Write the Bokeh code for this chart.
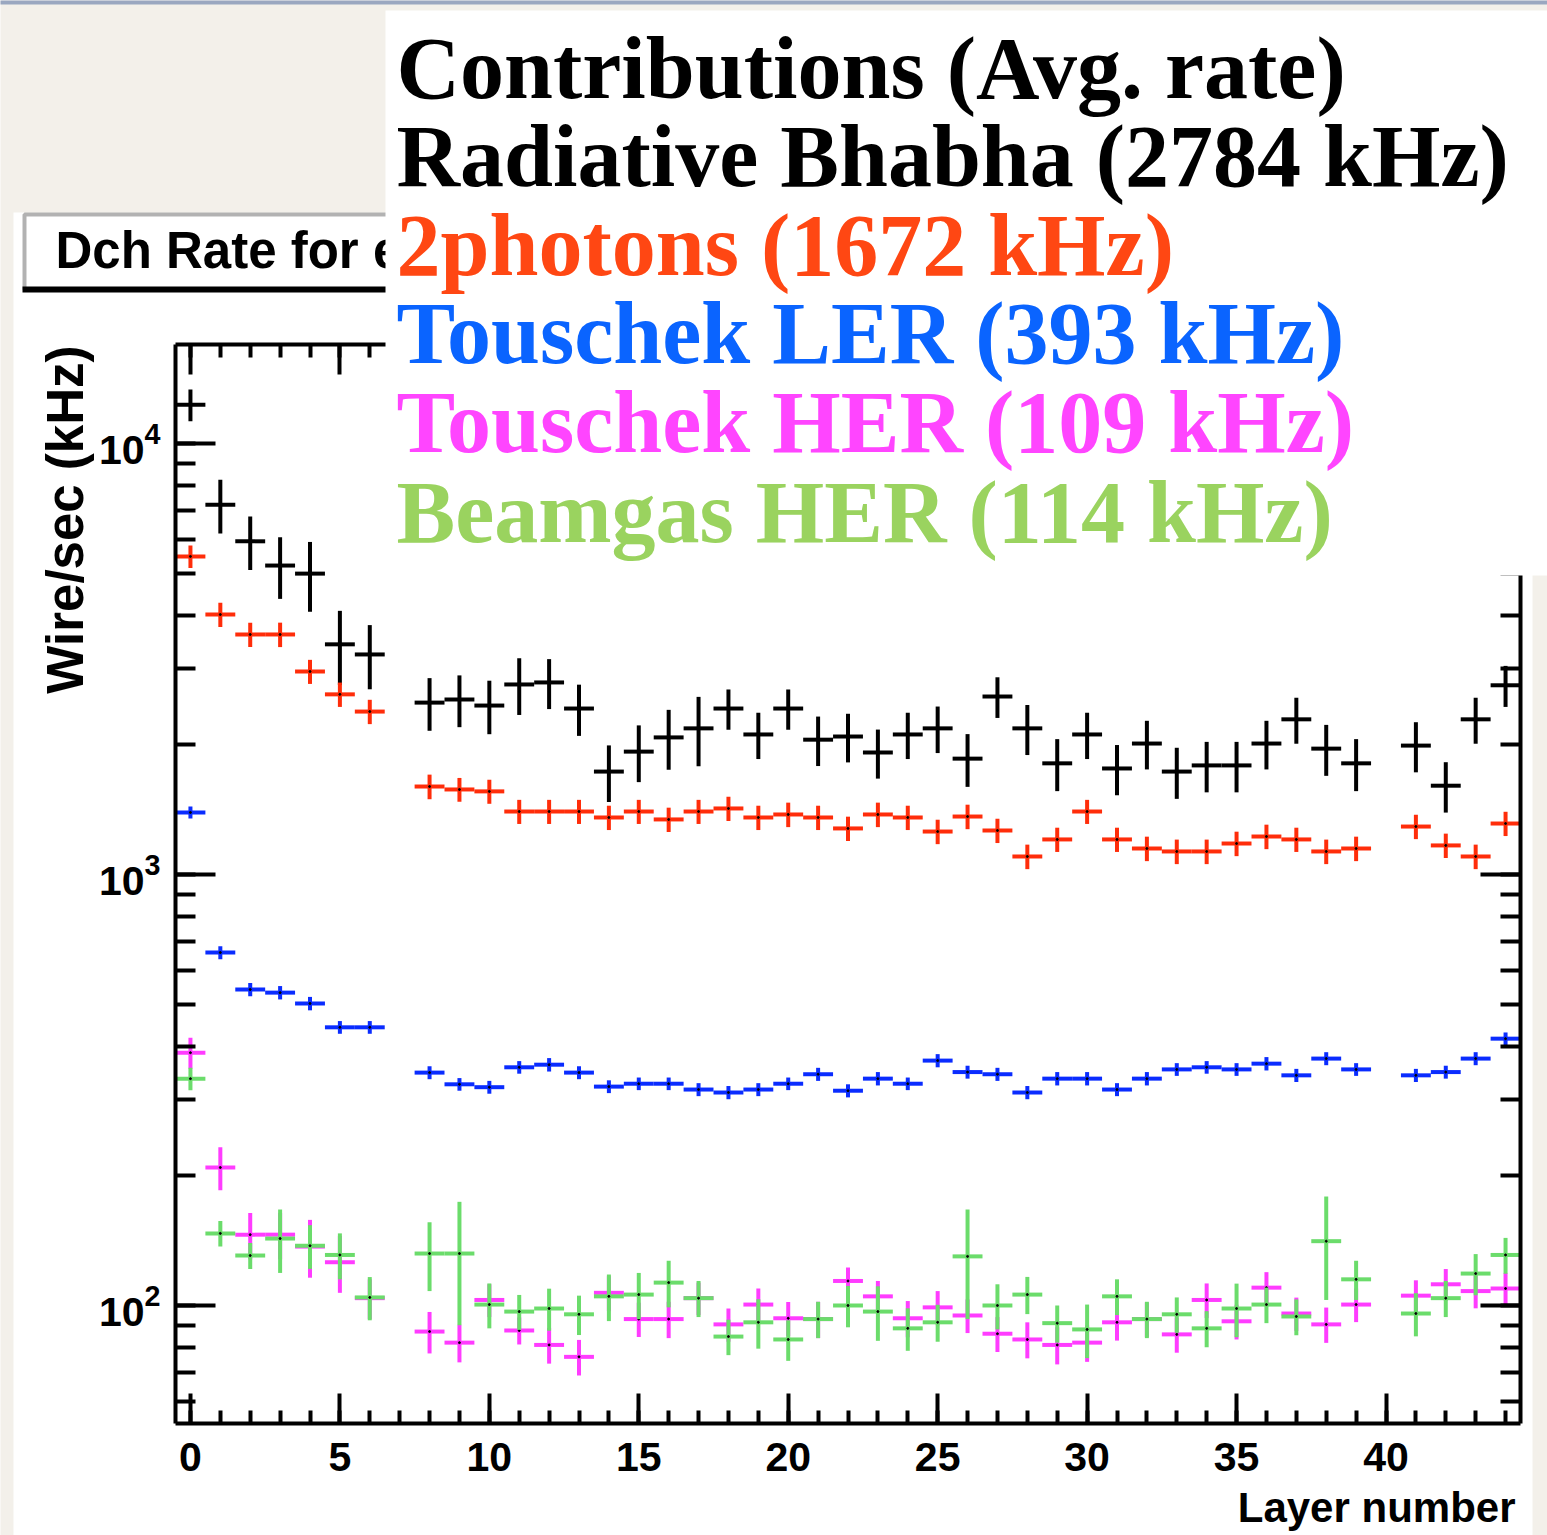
import math
from bokeh.plotting import figure
from bokeh.models import (ColumnDataSource, Range1d, LogAxis, LinearAxis,
                          SingleIntervalTicker, LogTicker, BoxAnnotation, Label,
                          CustomLabelingPolicy)
from bokeh.embed import file_html
from bokeh.resources import INLINE

# ---------------- data ----------------
layers = list(range(45))

bhabha = [12300, 7210, 5930, 5210, 4990, 3420, 3240, None, 2505, 2547, 2466, 2760, 2790, 2427,
          1733, 1928, 2080, 2183, 2427, 2113, 2427, 2055, 2090, 1919, 2113, 2183, 1857, 2588,
          2183, 1811, 2113, 1762, 2013, 1733, 1791, 1791, 2013, 2291, 1959, 1811, None, 1991,
          1607, 2291, 2748]
bhabha_err = [1040, 1030, 840, 850, 920, 670, 550, None, 350, 350, 350, 415, 370, 330,
              260, 290, 330, 400, 260, 260, 260, 270, 270, 250, 260, 270, 260, 280,
              290, 250, 260, 235, 260, 235, 240, 240, 260, 280, 265, 250, None, 265,
              215, 280, 300]

twophoton = [5470, 4010, 3605, 3605, 2958, 2618, 2388, None, 1600, 1575, 1559, 1400, 1400, 1400,
             1356, 1400, 1342, 1400, 1423, 1356, 1378, 1356, 1279, 1378, 1356, 1258, 1363, 1265,
             1101, 1206, 1400, 1206, 1149, 1131, 1131, 1180, 1225, 1206, 1131, 1149, None, 1292,
             1168, 1101, 1313]
twophoton_err = [330, 260, 235, 235, 190, 170, 155, None, 105, 100, 100, 90, 90, 90,
                 88, 90, 87, 90, 92, 88, 90, 88, 83, 90, 88, 82, 89, 82,
                 72, 78, 90, 78, 75, 74, 74, 77, 80, 78, 74, 75, None, 84,
                 76, 72, 85]

touschek_ler = [1393, 659, 541, 532, 502, 442, 442, None, 347, 326, 321, 357, 362, 347,
                322, 327, 327, 317, 312, 317, 327, 344, 315, 336, 327, 370, 348, 344,
                312, 336, 336, 317, 336, 353, 357, 353, 364, 342, 374, 353, None, 342,
                348, 374, 416]
touschek_ler_err = [45, 23, 19, 19, 18, 15, 15, None, 12, 11, 11, 12, 13, 12,
                    11, 11, 11, 11, 11, 11, 11, 12, 11, 12, 11, 13, 12, 12,
                    11, 12, 12, 11, 12, 12, 12, 12, 13, 12, 13, 12, None, 12,
                    12, 13, 14]

touschek_her = [386, 209, 146, 146, 137, 126, 104, None, 87, 82, 103, 87.5, 81, 76,
                107, 93, 93, 104, 90.4, 100.5, 93.4, 93, 114, 105, 93.4, 99, 94.8, 86,
                83.4, 81, 82, 91.4, 93, 85.7, 103, 91.9, 110, 95.8, 90.4, 100.5, None, 105.4,
                112, 108, 109.5]
touschek_her_err = [32, 24, 18, 18, 21, 19, 11, None, 9.6, 8.2, 9, 6.3, 7.7, 7.2,
                    10, 8.5, 9, 9, 8, 9, 8.5, 9, 8.5, 9, 9, 9, 8.5, 8,
                    8, 8, 8, 8.5, 8.5, 8, 9.5, 8.5, 9.5, 8.5, 8.5, 9, None, 9,
                    9.5, 9.5, 9.5]

beamgas_her = [336, 147, 130.6, 143, 137.6, 131, 104.4, None, 132, 132, 100.5, 96.8, 98.4, 95.4,
               105, 106, 113, 104, 84.7, 91.4, 83.4, 93, 100, 96.8, 88.5, 91.4, 130, 100,
               106, 91, 88, 105, 93, 95.4, 88.5, 98.4, 100.5, 94.3, 141, 115, None, 95.8,
               104, 118.6, 131]
beamgas_her_err = [20, 10, 9, 24, 16, 16, 12, None, 24, 42, 12, 9, 11, 10,
                   13, 13, 14, 10, 8, 12, 9, 9, 11, 14, 10, 9, 37, 12,
                   10.5, 9, 12.5, 10, 9, 9, 8.5, 14, 9.5, 9, 38, 12, None, 11,
                   10, 13, 12.5]

legend_lines = ["Contributions (Avg. rate)",
                "Radiative Bhabha (2784 kHz)",
                "2photons (1672 kHz)",
                "Touschek LER (393 kHz)",
                "Touschek HER (109 kHz)",
                "Beamgas HER (114 kHz)"]

title_text = "Dch Rate for e"
y_title = "Wire/sec (kHz)"
x_title = "Layer number"

# ---------------- styles ----------------
BEIGE = "#f3f0ea"
data_colors = ["#000000", "#ff2d0a", "#0a2cff", "#ff3cff", "#6bdc6b"]
legend_colors = ["#000000", "#000000", "#ff4713", "#0a64ff", "#ff45ff", "#9ad35f"]

W, H = 1547, 1535
# pixel box of the ROOT frame inside the picture
FX0, FX1, FY0, FY1 = 175, 1520, 344, 1423
XLO, XHI = -0.5, 44.5
LHI = 4.2297
LLO = 1.7262
YLO, YHI = 10 ** LLO, 10 ** LHI
SHIFT = 0.36  # baseline correction (fraction of font size)


def dx(px):
    return XLO + (px - FX0) * (XHI - XLO) / (FX1 - FX0)


def dy(py):
    return 10 ** (LHI - (py - FY0) * (LHI - LLO) / (FY1 - FY0))


# the whole canvas is the plotting frame; the ROOT frame is drawn by fixed axes
p = figure(width=W, height=H, x_range=Range1d(dx(0), dx(W)), y_range=Range1d(dy(H), dy(0)),
           y_axis_type="log", x_axis_location=None, y_axis_location=None, title=None,
           output_backend="svg", toolbar_location=None, min_border=0,
           border_fill_color=BEIGE, background_fill_color=BEIGE, outline_line_color=None)
p.xgrid.visible = False
p.ygrid.visible = False

# white canvas of the ROOT picture + thin top line
p.add_layout(BoxAnnotation(left=dx(13), right=dx(1532), top=dy(212), bottom=dy(H + 5),
                           fill_color="white", fill_alpha=1, line_color=None, level="underlay"))
p.add_layout(BoxAnnotation(left=dx(-5), right=dx(W + 5), top=dy(-2), bottom=dy(4),
                           fill_color="#9aa7c0", fill_alpha=1, line_color=None, level="underlay"))

xt = SingleIntervalTicker(interval=5, num_minor_ticks=5)
yt = LogTicker(num_minor_ticks=10, mantissas=[1])

bottom_axis = LinearAxis(ticker=xt, fixed_location=YLO, bounds=(XLO, XHI))
top_axis = LinearAxis(ticker=xt, fixed_location=YHI, bounds=(XLO, XHI))
left_axis = LogAxis(ticker=yt, fixed_location=XLO, bounds=(YLO, YHI))
right_axis = LogAxis(ticker=yt, fixed_location=XHI, bounds=(YLO, YHI))
p.add_layout(bottom_axis, "below")
p.add_layout(top_axis, "above")
p.add_layout(left_axis, "left")
p.add_layout(right_axis, "right")

for ax in [bottom_axis, top_axis]:
    ax.major_tick_in = 30
    ax.minor_tick_in = 13
for ax in [left_axis, right_axis]:
    ax.major_tick_in = 40
    ax.minor_tick_in = 20
for ax in [bottom_axis, top_axis, left_axis, right_axis]:
    ax.major_tick_out = 0
    ax.minor_tick_out = 0
    ax.axis_line_width = 4
    ax.major_tick_line_width = 4
    ax.minor_tick_line_width = 4
    ax.axis_line_color = "black"
    ax.major_tick_line_color = "black"
    ax.minor_tick_line_color = "black"
    ax.major_label_text_font = "Liberation Sans"
    ax.major_label_text_font_style = "bold"
    ax.major_label_text_font_size = "41px"
    ax.major_label_text_color = "black"
for ax in [top_axis, right_axis]:
    ax.major_label_policy = CustomLabelingPolicy(code="return []")
    ax.major_label_text_font_size = "1px"
    ax.major_label_standoff = 0
bottom_axis.major_label_standoff = 19
left_axis.major_label_standoff = 15

# ---------------- error-bar crosses ----------------
series = [(bhabha, bhabha_err), (twophoton, twophoton_err), (touschek_ler, touschek_ler_err),
          (touschek_her, touschek_her_err), (beamgas_her, beamgas_her_err)]
for (vals, errs), col in zip(series, data_colors):
    xs, ys, lo, hi, xl, xr = [], [], [], [], [], []
    for L, v, e in zip(layers, vals, errs):
        if v is None:
            continue
        xs.append(L); ys.append(v); lo.append(v - e); hi.append(v + e)
        xl.append(L - 0.5); xr.append(L + 0.5)
    src = ColumnDataSource(dict(x=xs, y=ys, lo=lo, hi=hi, xl=xl, xr=xr))
    p.segment(x0="xl", y0="y", x1="xr", y1="y", source=src, line_color=col, line_width=4)
    p.segment(x0="x", y0="lo", x1="x", y1="hi", source=src, line_color=col, line_width=4)
    p.scatter(x="x", y="y", source=src, size=2, color="black")

# ---------------- title pave ----------------
p.add_layout(BoxAnnotation(left=dx(24), right=dx(420), top=dy(214), bottom=dy(289),
                           fill_color="white", fill_alpha=1, line_color="black", line_width=4,
                           level="annotation"))
p.add_layout(BoxAnnotation(left=dx(22), right=dx(420), top=dy(286), bottom=dy(292),
                           fill_color="black", fill_alpha=1, line_color=None, level="annotation"))
p.add_layout(Label(x=dx(55), y=dy(268 - SHIFT * 51), text=title_text, text_font="Liberation Sans",
                   text_font_style="bold", text_font_size="51px", text_color="black",
                   text_baseline="alphabetic", text_align="left", level="annotation"))

# axis titles (ROOT style: at the end of the axes)
p.add_layout(Label(x=dx(83 - SHIFT * 51), y=dy(345), text=y_title, angle=math.pi / 2,
                   text_font="Liberation Sans", text_font_style="bold", text_font_size="51px",
                   text_color="black", text_align="right", text_baseline="alphabetic"))
p.add_layout(Label(x=dx(1515), y=dy(1522 - SHIFT * 42), text=x_title, text_font="Liberation Sans",
                   text_font_style="bold", text_font_size="42px", text_color="black",
                   text_align="right", text_baseline="alphabetic"))

# ---------------- legend box (slide overlay) ----------------
p.add_layout(BoxAnnotation(left=dx(385), right=dx(W + 10), top=dy(10), bottom=dy(575),
                           fill_color="white", fill_alpha=1, line_color=None, level="overlay"))
LFS = 88
baselines = [100, 188, 277, 365, 454, 544]
for txt, col, yb in zip(legend_lines, legend_colors, baselines):
    p.add_layout(Label(x=dx(396), y=dy(yb - SHIFT * LFS), text=txt, text_font="Liberation Serif",
                       text_font_style="bold", text_font_size=f"{LFS}px", text_color=col,
                       text_baseline="alphabetic", text_align="left", level="overlay"))

open("out.html", "w").write(file_html(p, INLINE))
